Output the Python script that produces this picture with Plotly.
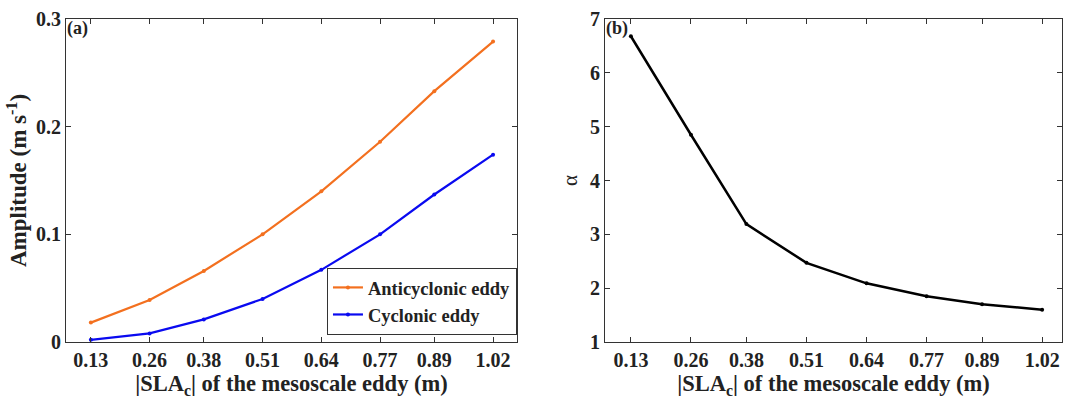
import plotly.graph_objects as go

sla = [0.13, 0.26, 0.38, 0.51, 0.64, 0.77, 0.89, 1.02]
tick_labels = ["0.13", "0.26", "0.38", "0.51", "0.64", "0.77", "0.89", "1.02"]
anticyclonic = [0.018, 0.039, 0.066, 0.100, 0.140, 0.186, 0.233, 0.279]
cyclonic = [0.002, 0.008, 0.021, 0.040, 0.067, 0.100, 0.137, 0.174]
alpha = [6.68, 4.85, 3.19, 2.47, 2.09, 1.85, 1.70, 1.60]

FONT = "'Times New Roman', 'Liberation Serif', 'DejaVu Serif', serif"
W, H = 1067, 401

fig = go.Figure()
fig.add_trace(go.Scatter(x=sla, y=anticyclonic, mode="lines+markers", name="<b>Anticyclonic eddy</b>",
                         line=dict(color="#F3701F", width=2.2), marker=dict(size=4, color="#F3701F"),
                         xaxis="x", yaxis="y"))
fig.add_trace(go.Scatter(x=sla, y=cyclonic, mode="lines+markers", name="<b>Cyclonic eddy</b>",
                         line=dict(color="#0A0AF0", width=2.2), marker=dict(size=4, color="#0A0AF0"),
                         xaxis="x", yaxis="y"))
fig.add_trace(go.Scatter(x=sla, y=alpha, mode="lines+markers", name="alpha", showlegend=False,
                         line=dict(color="black", width=2.5), marker=dict(size=4, color="black"),
                         xaxis="x2", yaxis="y2"))

axis_common = dict(showgrid=False, zeroline=False, showline=True, linecolor="#333", linewidth=1.2,
                   mirror="ticks", ticks="inside", ticklen=5, tickcolor="#333",
                   tickfont=dict(family=FONT, size=20, color="#222"))

xt = dict(tickmode="array", tickvals=sla, ticktext=[f"<b>{t}</b>" for t in tick_labels])
xtitle = dict(text="<b>|SLA<sub>c</sub>| of the mesoscale eddy (m)</b>",
              font=dict(family=FONT, size=22.5, color="#222"), standoff=1)

fig.update_layout(
    width=W, height=H, paper_bgcolor="white", plot_bgcolor="white",
    margin=dict(l=0, r=0, t=19, b=59),
    xaxis=dict(domain=[66 / W, 517 / W], range=[0.075, 1.073], anchor="y", title=xtitle, **xt, **axis_common),
    yaxis=dict(domain=[0, 1], range=[0, 0.3], anchor="x",
               tickvals=[0, 0.1, 0.2, 0.3], ticktext=["<b>0</b>", "<b>0.1</b>", "<b>0.2</b>", "<b>0.3</b>"],
               title=dict(text="<b>Amplitude (m s<sup>-1</sup>)</b>", font=dict(family=FONT, size=23, color="#222"),
                          standoff=2), **axis_common),
    xaxis2=dict(domain=[605 / W, 1062 / W], range=[0.074, 1.063], anchor="y2", title=xtitle, **xt, **axis_common),
    yaxis2=dict(domain=[0, 1], range=[1, 7], anchor="x2",
                tickvals=[1, 2, 3, 4, 5, 6, 7], ticktext=[f"<b>{v}</b>" for v in range(1, 8)],
                title=dict(text="α", font=dict(family=FONT, size=21, color="#222"), standoff=6),
                **axis_common),
    legend=dict(x=0.4845, xanchor="right", y=0.022, yanchor="bottom",
                bordercolor="#333", borderwidth=1, bgcolor="white",
                font=dict(family=FONT, size=18.5, color="#222"), itemwidth=30, tracegroupgap=0),
    showlegend=True,
    annotations=[
        dict(text="<b>(a)</b>", x=66 / W, y=1.0, xref="paper", yref="paper", xanchor="left", yanchor="top",
             showarrow=False, font=dict(family=FONT, size=18, color="#222"), xshift=-1, yshift=3),
        dict(text="<b>(b)</b>", x=605 / W, y=1.0, xref="paper", yref="paper", xanchor="left", yanchor="top",
             showarrow=False, font=dict(family=FONT, size=18, color="#222"), xshift=-1, yshift=3),
    ],
)

fig.write_html("out.html")
